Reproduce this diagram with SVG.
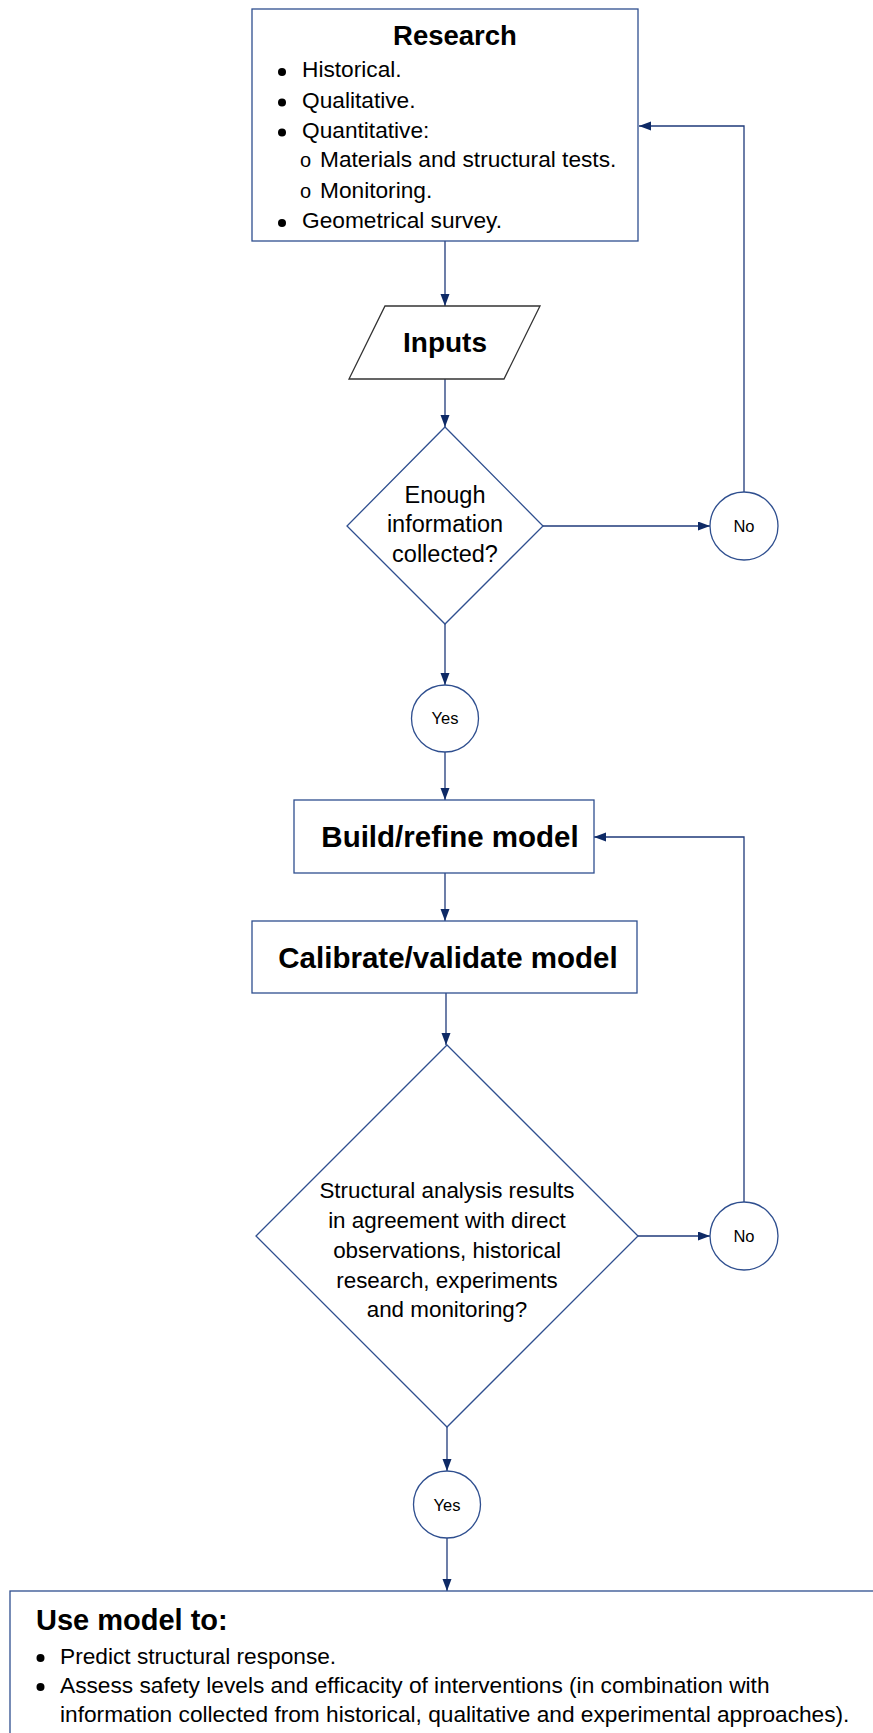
<svg xmlns="http://www.w3.org/2000/svg" width="873" height="1733" viewBox="0 0 873 1733">
<style>
  .shape { fill: #ffffff; stroke: #2F4F8F; stroke-width: 1.3; }
  .para { fill: #ffffff; stroke: #333333; stroke-width: 1.3; }
  .conn { fill: none; stroke: #1F3A7A; stroke-width: 1.3; }
  .t { font-family: "Liberation Sans", Arial, sans-serif; fill: #000000; }
  .b { font-weight: bold; }
  .c { text-anchor: middle; }
  .dot { fill: #000000; }
</style>
<defs>
  <marker id="arr" markerUnits="userSpaceOnUse" markerWidth="13" markerHeight="10" refX="12" refY="4.5" orient="auto">
    <path d="M0,0 L12,4.5 L0,9 Z" fill="#0E2A66"/>
  </marker>
</defs>
<rect width="873" height="1733" fill="#ffffff"/>

<g id="connectors">
  <path class="conn" d="M445,241 V306" marker-end="url(#arr)"/>
  <path class="conn" d="M445,379 V427" marker-end="url(#arr)"/>
  <path class="conn" d="M543,526 H710" marker-end="url(#arr)"/>
  <path class="conn" d="M744,492 V126 H639" marker-end="url(#arr)"/>
  <path class="conn" d="M445,624 V685" marker-end="url(#arr)"/>
  <path class="conn" d="M445,752 V800" marker-end="url(#arr)"/>
  <path class="conn" d="M445,873 V921" marker-end="url(#arr)"/>
  <path class="conn" d="M446,993 V1045" marker-end="url(#arr)"/>
  <path class="conn" d="M638,1236 H710" marker-end="url(#arr)"/>
  <path class="conn" d="M744,1202 V837 H594" marker-end="url(#arr)"/>
  <path class="conn" d="M447,1427 V1471" marker-end="url(#arr)"/>
  <path class="conn" d="M447,1538 V1591" marker-end="url(#arr)"/>
</g>

<g id="research">
  <rect class="shape" x="252" y="9" width="386" height="232"/>
  <text class="t b c" x="455" y="45" font-size="27.5">Research</text>
  <circle class="dot" cx="282" cy="72" r="4"/>
  <text class="t" x="302" y="77" font-size="22.7">Historical.</text>
  <circle class="dot" cx="282" cy="102.5" r="4"/>
  <text class="t" x="302" y="107.5" font-size="22.7">Qualitative.</text>
  <circle class="dot" cx="282" cy="132.5" r="4"/>
  <text class="t" x="302" y="137.5" font-size="22.7">Quantitative:</text>
  <text class="t" x="300" y="167" font-size="20">o</text>
  <text class="t" x="320" y="167" font-size="22.7">Materials and structural tests.</text>
  <text class="t" x="300" y="197.5" font-size="20">o</text>
  <text class="t" x="320" y="197.5" font-size="22.7">Monitoring.</text>
  <circle class="dot" cx="282" cy="223" r="4"/>
  <text class="t" x="302" y="228" font-size="22.7">Geometrical survey.</text>
</g>

<g id="inputs">
  <polygon class="para" points="385,306 540,306 504,379 349,379"/>
  <text class="t b c" x="445" y="352" font-size="28">Inputs</text>
</g>

<g id="decision1">
  <polygon class="shape" points="445,427 543,526 445,624 347,526"/>
  <text class="t c" x="445" y="503" font-size="23.5">Enough</text>
  <text class="t c" x="445" y="532" font-size="23.5">information</text>
  <text class="t c" x="445" y="562" font-size="23.5">collected?</text>
</g>

<g id="no1">
  <circle class="shape" cx="744" cy="526" r="34"/>
  <text class="t c" x="744" y="532" font-size="16.5">No</text>
</g>

<g id="yes1">
  <circle class="shape" cx="445" cy="718.5" r="33.5"/>
  <text class="t c" x="445" y="724" font-size="16.5">Yes</text>
</g>

<g id="build">
  <rect class="shape" x="294" y="800" width="300" height="73"/>
  <text class="t b c" x="450" y="847" font-size="29.5">Build/refine model</text>
</g>

<g id="calibrate">
  <rect class="shape" x="252" y="921" width="385" height="72"/>
  <text class="t b c" x="448" y="968" font-size="29.5">Calibrate/validate model</text>
</g>

<g id="decision2">
  <polygon class="shape" points="447,1045 638,1236 447,1427 256,1236"/>
  <text class="t c" x="447" y="1198" font-size="22.4">Structural analysis results</text>
  <text class="t c" x="447" y="1228" font-size="22.4">in agreement with direct</text>
  <text class="t c" x="447" y="1258" font-size="22.4">observations, historical</text>
  <text class="t c" x="447" y="1288" font-size="22.4">research, experiments</text>
  <text class="t c" x="447" y="1317" font-size="22.4">and monitoring?</text>
</g>

<g id="no2">
  <circle class="shape" cx="744" cy="1236" r="34"/>
  <text class="t c" x="744" y="1242" font-size="16.5">No</text>
</g>

<g id="yes2">
  <circle class="shape" cx="447" cy="1504.5" r="33.5"/>
  <text class="t c" x="447" y="1511" font-size="16.5">Yes</text>
</g>

<g id="use-model">
  <rect class="shape" x="10" y="1591" width="900" height="200"/>
  <text class="t b" x="36" y="1630" font-size="29">Use model to:</text>
  <circle class="dot" cx="40.5" cy="1658" r="4"/>
  <text class="t" x="60" y="1664" font-size="22.7">Predict structural response.</text>
  <circle class="dot" cx="40.5" cy="1687" r="4"/>
  <text class="t" x="60" y="1693" font-size="22.7">Assess safety levels and efficacity of interventions (in combination with</text>
  <text class="t" x="60" y="1722" font-size="22.7">information collected from historical, qualitative and experimental approaches).</text>
</g>
</svg>
